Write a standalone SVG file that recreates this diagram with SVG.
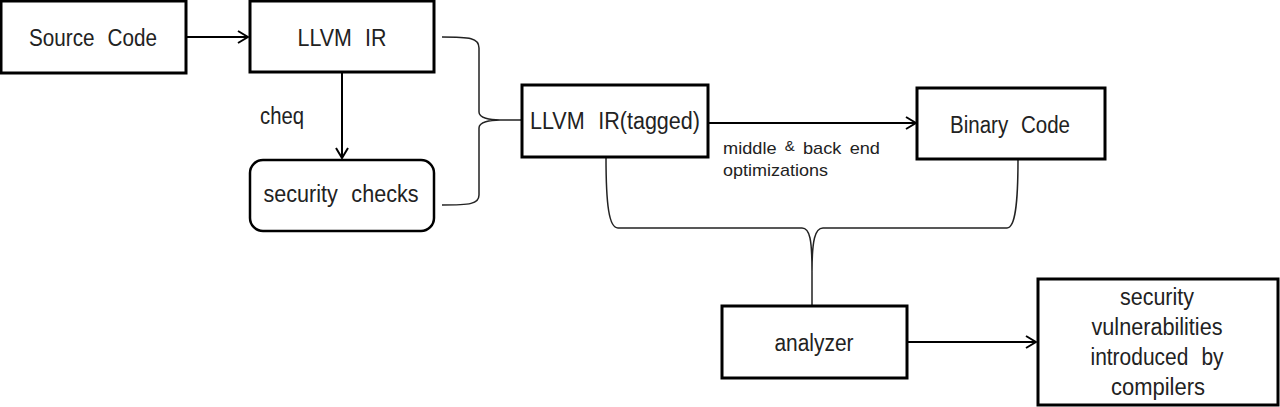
<svg xmlns="http://www.w3.org/2000/svg" width="1280" height="407" viewBox="0 0 1280 407">
<style>
.box{fill:#fff;stroke:#000;stroke-width:3}
.t{font-family:"Liberation Sans",Arial,sans-serif;font-size:23px;fill:#222;text-anchor:middle;word-spacing:8px}
.s{font-family:"Liberation Sans",Arial,sans-serif;font-size:17px;fill:#222;word-spacing:3px}
.c{fill:none;stroke:#000;stroke-width:2}
.b{fill:none;stroke:#222;stroke-width:1.5}
</style>
<defs>
<marker id="ah" viewBox="0 0 12 14" refX="11" refY="7" markerWidth="12" markerHeight="14" markerUnits="userSpaceOnUse" orient="auto">
<path d="M1,1 L11,7 L1,13" fill="none" stroke="#000" stroke-width="2"/>
</marker>
</defs>
<rect width="1280" height="407" fill="#fff"/>
<g id="connectors">
<path class="c" d="M186,37 L248,37" marker-end="url(#ah)"/>
<path class="c" d="M342,73 L342,158" marker-end="url(#ah)"/>
<path class="c" d="M708,123 L916,123" marker-end="url(#ah)"/>
<path class="c" d="M907,342 L1036,342" marker-end="url(#ah)"/>
<path class="b" d="M442,37 C470,37 479,38 479,48 L479,112 C479,118 490,120 500,120 C490,120 479,122 479,128 L479,195 C479,204 470,205 442,205 M500,120 L522,120"/>
<path class="b" d="M606,157 C606,205 609,228 618,228 L802,228 C810,228 812,240 812,272 M1018,159 C1018,205 1015,228 1007,228 L823,228 C815,228 812,240 812,272 L812,306"/>
<text class="t" x="282" y="124" textLength="44" lengthAdjust="spacingAndGlyphs">cheq</text>
<text class="s" x="723" y="154" textLength="157" lengthAdjust="spacingAndGlyphs">middle <tspan font-size="14" dy="-3">&amp;</tspan><tspan dy="3"> back end</tspan></text>
<text class="s" x="723" y="176" textLength="105" lengthAdjust="spacingAndGlyphs">optimizations</text>
</g>
<g id="source"><rect class="box" x="1" y="1" width="185" height="72"/><text class="t" x="93" y="46" textLength="128" lengthAdjust="spacingAndGlyphs">Source Code</text></g>
<g id="llvmir"><rect class="box" x="250" y="1" width="184" height="71"/><text class="t" x="342" y="46" textLength="89" lengthAdjust="spacingAndGlyphs">LLVM IR</text></g>
<g id="checks"><rect class="box" x="250" y="160" width="184" height="71" rx="13" style="stroke-width:2.5"/><text class="t" x="341" y="202" textLength="155" lengthAdjust="spacingAndGlyphs">security checks</text></g>
<g id="tagged"><rect class="box" x="522" y="85" width="186" height="72"/><text class="t" x="615" y="129" textLength="170" lengthAdjust="spacingAndGlyphs">LLVM IR(tagged)</text></g>
<g id="binary"><rect class="box" x="917" y="88" width="188" height="71"/><text class="t" x="1010" y="133" textLength="120" lengthAdjust="spacingAndGlyphs">Binary Code</text></g>
<g id="analyzer"><rect class="box" x="722" y="306" width="185" height="72"/><text class="t" x="814" y="351" textLength="79" lengthAdjust="spacingAndGlyphs">analyzer</text></g>
<g id="vuln"><rect class="box" x="1038" y="279" width="240" height="126"/>
<text class="t" x="1157" y="305" textLength="74" lengthAdjust="spacingAndGlyphs">security</text>
<text class="t" x="1157" y="335" textLength="131" lengthAdjust="spacingAndGlyphs">vulnerabilities</text>
<text class="t" x="1157" y="365" textLength="133" lengthAdjust="spacingAndGlyphs">introduced by</text>
<text class="t" x="1158" y="395" textLength="94" lengthAdjust="spacingAndGlyphs">compilers</text>
</g>
</svg>
